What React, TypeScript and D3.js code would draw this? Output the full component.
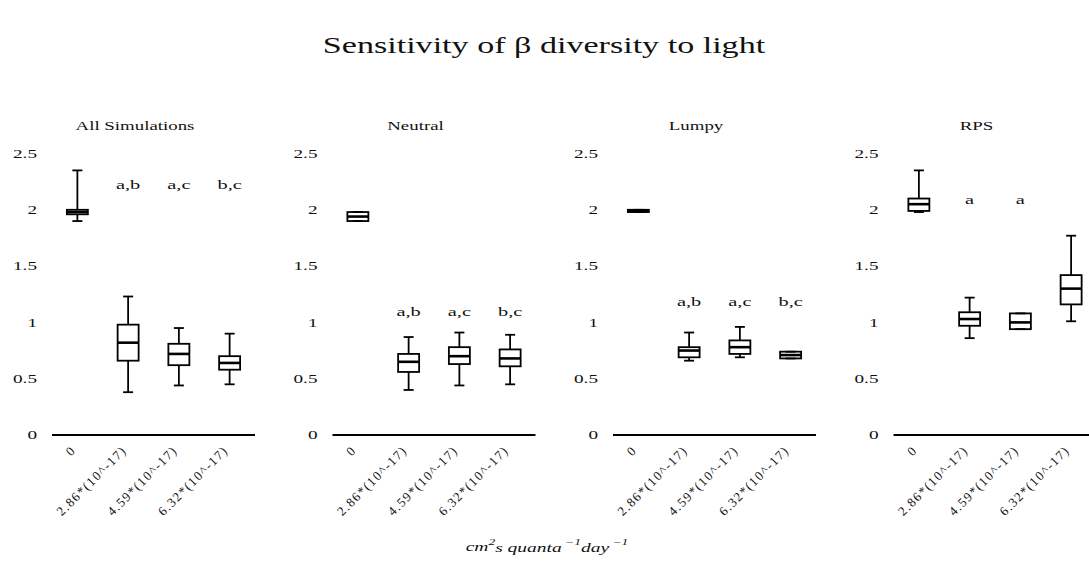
import React from "react";
import * as d3 from "d3";

// Light levels (cm^2 s quanta^-1 day^-1) and community types
const categories = ["0", "2.86*(10^-17)", "4.59*(10^-17)", "6.32*(10^-17)"];
const panelTitles = ["All Simulations", "Neutral", "Lumpy", "RPS"];
const yTicks = [0, 0.5, 1, 1.5, 2, 2.5];

// Box statistics per light level: [lower whisker, Q1, median, Q3, upper whisker]
const allSimStats = [
  [1.9, 1.96, 1.98, 2.0, 2.35],
  [0.38, 0.66, 0.82, 0.98, 1.23],
  [0.44, 0.62, 0.72, 0.81, 0.95],
  [0.45, 0.58, 0.64, 0.7, 0.9],
];
const neutralStats = [
  [1.9, 1.9, 1.94, 1.98, 1.98],
  [0.4, 0.56, 0.65, 0.72, 0.87],
  [0.44, 0.63, 0.7, 0.78, 0.91],
  [0.45, 0.61, 0.68, 0.76, 0.89],
];
const lumpyStats = [
  [1.98, 1.98, 1.99, 2.0, 2.0],
  [0.66, 0.69, 0.75, 0.78, 0.91],
  [0.69, 0.72, 0.78, 0.84, 0.96],
  [0.68, 0.68, 0.71, 0.74, 0.74],
];
const rpsStats = [
  [1.98, 1.99, 2.05, 2.1, 2.35],
  [0.86, 0.97, 1.03, 1.09, 1.22],
  [0.94, 0.94, 1.0, 1.08, 1.08],
  [1.01, 1.16, 1.3, 1.42, 1.77],
];

// Pairwise significance letters and the height they are written at
const allSimLetters = ["", "a,b", "a,c", "b,c"];
const neutralLetters = ["", "a,b", "a,c", "b,c"];
const lumpyLetters = ["", "a,b", "a,c", "b,c"];
const rpsLetters = ["", "a", "a", ""];
const letterHeights = [2.22, 1.09, 1.18, 2.09];

const panelStats = [allSimStats, neutralStats, lumpyStats, rpsStats];
const panelLetters = [allSimLetters, neutralLetters, lumpyLetters, rpsLetters];

const W = 1089;
const H = 565;
const FONT = "'Liberation Serif', 'Times New Roman', serif";
const SX = 1.45; // horizontal stretch of lettering

const plotLeft0 = 52;
const panelStep = 280.5;
const plotWidth = 203;
const yScale = d3.scaleLinear().domain([0, 2.5]).range([435, 153.5]);
const boxHalf = 10.5;
const capHalf = 5;

function WideText(props: {
  x: number;
  y: number;
  size: number;
  anchor?: string;
  italic?: boolean;
  sx?: number;
  children: React.ReactNode;
}) {
  const { x, y, size, anchor = "middle", italic = false, sx = SX, children } = props;
  return (
    <g transform={`translate(${x},${y}) scale(${sx},1)`}>
      <text
        x={0}
        y={0}
        fontFamily={FONT}
        fontSize={size}
        fontStyle={italic ? "italic" : "normal"}
        textAnchor={anchor}
        dominantBaseline="central"
        fill="#111"
      >
        {children}
      </text>
    </g>
  );
}

function Panel({ index }: { index: number }) {
  const x0 = plotLeft0 + index * panelStep;
  const xScale = d3.scaleLinear().domain([0.5, 4.5]).range([x0, x0 + plotWidth]);
  const stats = panelStats[index];
  const letters = panelLetters[index];
  const fmt = d3.format("~g");

  return (
    <g>
      <WideText x={x0 + 83} y={126} size={13}>
        {panelTitles[index]}
      </WideText>

      {yTicks.map((t) => (
        <WideText key={t} x={x0 - 15} y={yScale(t)} size={12} anchor="end" sx={1.6}>
          {fmt(t)}
        </WideText>
      ))}

      <line
        x1={xScale(0.5)}
        x2={xScale(4.5)}
        y1={yScale(0)}
        y2={yScale(0)}
        stroke="#000"
        strokeWidth={2}
      />

      {stats.map((s, i) => {
        const cx = xScale(i + 1);
        const [lo, q1, med, q3, hi] = s.map((v) => yScale(v));
        return (
          <g key={i} stroke="#000" strokeWidth={1.8} fill="none">
            <line x1={cx} x2={cx} y1={hi} y2={q3} />
            <line x1={cx} x2={cx} y1={q1} y2={lo} />
            <line x1={cx - capHalf} x2={cx + capHalf} y1={hi} y2={hi} />
            <line x1={cx - capHalf} x2={cx + capHalf} y1={lo} y2={lo} />
            <rect x={cx - boxHalf} y={q3} width={boxHalf * 2} height={Math.max(q1 - q3, 0.5)} />
            <line x1={cx - boxHalf} x2={cx + boxHalf} y1={med} y2={med} strokeWidth={2.6} />
          </g>
        );
      })}

      {letters.map((l, i) =>
        l ? (
          <WideText key={i} x={xScale(i + 1)} y={yScale(letterHeights[index])} size={12} sx={1.7}>
            {l}
          </WideText>
        ) : null
      )}

      {categories.map((c, i) => {
        const ax = xScale(i + 1) - 4;
        const ay = yScale(0) + 13;
        return (
          <text
            key={c}
            transform={`translate(${ax},${ay}) rotate(-45)`}
            fontFamily={FONT}
            fontSize={13}
            letterSpacing={1.4}
            textAnchor="end"
            dominantBaseline="central"
            fill="#111"
          >
            {c}
          </text>
        );
      })}
    </g>
  );
}

export default function App() {
  return (
    <svg
      width={W}
      height={H}
      style={{ display: "block", position: "absolute", left: 0, top: 0, background: "#fff" }}
    >
      <rect x={0} y={0} width={W} height={H} fill="#fff" />
      <WideText x={544} y={45} size={24} sx={1.42}>
        Sensitivity of β diversity to light
      </WideText>
      {panelTitles.map((_, i) => (
        <Panel key={i} index={i} />
      ))}
      <WideText x={547} y={547} size={13} italic sx={1.5}>
        cm
        <tspan dy={-5} fontSize={9}>2</tspan>
        <tspan dy={5}>s quanta</tspan>
        <tspan dy={-5} fontSize={9}> −1</tspan>
        <tspan dy={5}>day</tspan>
        <tspan dy={-5} fontSize={9}> −1</tspan>
      </WideText>
    </svg>
  );
}
